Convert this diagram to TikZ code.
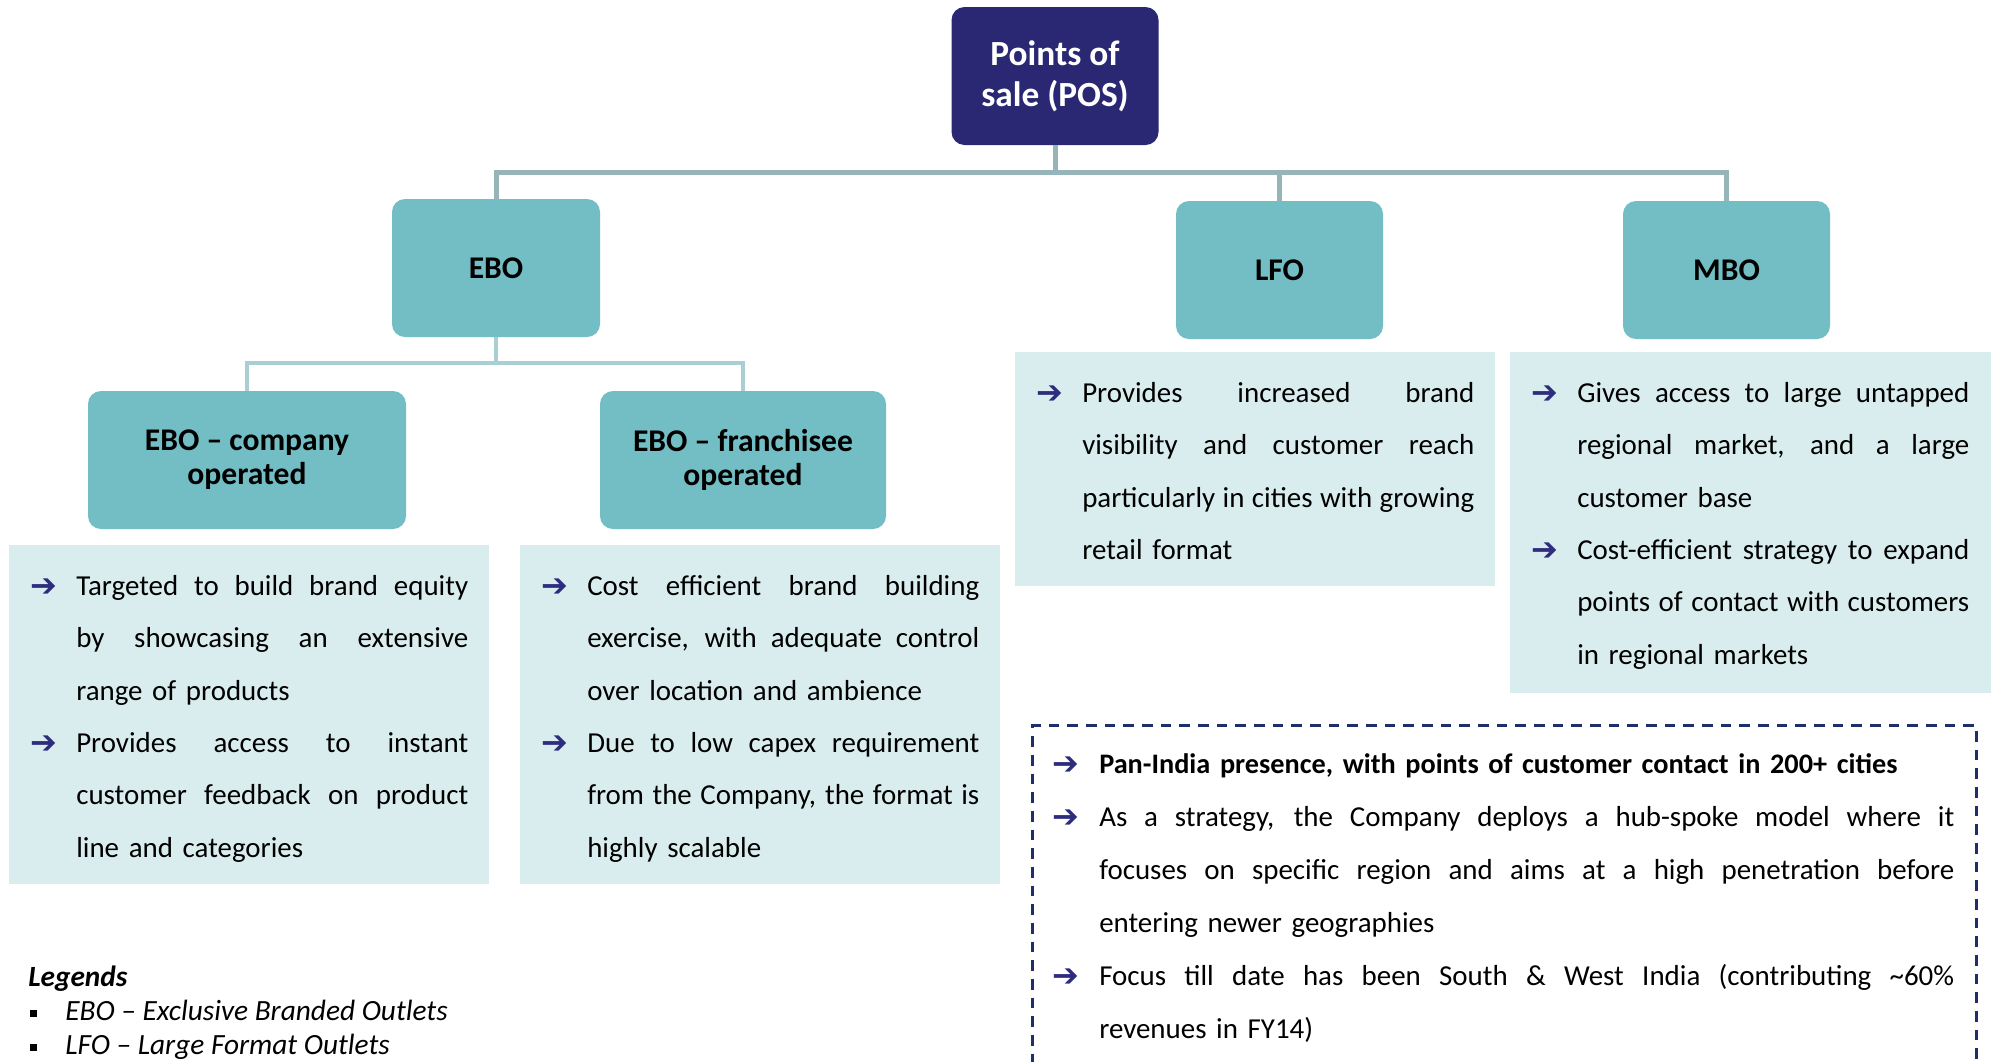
\documentclass[tikz,border=0pt]{standalone}
\usepackage{fontspec}
\setmainfont{Carlito}
\newfontfamily\symfont{DejaVu Sans}
\usetikzlibrary{calc}

\definecolor{posfill}{HTML}{2B2873}
\definecolor{catfill}{HTML}{72BEC4}
\definecolor{infofill}{HTML}{DAEDEE}
\definecolor{linetop}{HTML}{97B4B8}
\definecolor{linelow}{HTML}{A9CFD3}
\definecolor{arrowcol}{HTML}{2E2C7E}
\definecolor{dashcol}{HTML}{1F3068}

% bullet lines: arrow column of width \hangw, justified text of width \linew
\newlength\linew
\newlength\hangw
\setlength\hangw{34.5pt}
\setlength\linew{294pt}
\newcommand\bularrow{\textcolor{arrowcol}{\symfont\bfseries\fontsize{24pt}{24pt}\selectfont\raisebox{-0.6pt}{➔}}}
\newcommand\FirstStrut{\rule{0pt}{18.75pt}}
\newcommand\JustBox[1]{\makebox[\linew][s]{\spaceskip=.226em plus 1fil minus .1em
  \xspaceskip=\spaceskip #1}}
\newcommand\ArrLine[1]{\makebox[\hangw][l]{\bularrow}\JustBox{#1}}
\newcommand\ArrEnd[1]{\makebox[\hangw][l]{\bularrow}#1}
\newcommand\MidLine[1]{\hspace*{\hangw}\JustBox{#1}}
\newcommand\EndLine[1]{\hspace*{\hangw}#1}

\tikzset{
  x=0.75pt, y=-0.75pt,
  posbox/.style={rounded corners=9.75pt, fill=posfill, text=white, inner sep=0pt,
    minimum width=155.25pt, minimum height=103.5pt, align=center,
    font=\fontsize{26.5pt}{30.75pt}\selectfont\bfseries},
  catbox/.style={rounded corners=9.75pt, fill=catfill, text=black, inner sep=0pt,
    minimum height=103.5pt, align=center,
    font=\fontsize{23.7pt}{25.5pt}\selectfont\bfseries},
  infobox/.style={fill=infofill, anchor=north west, inner sep=0pt, draw=none},
  infotext/.style={anchor=north west, inner sep=0pt, text width=#1, align=left,
    font=\fontsize{21.7pt}{39.3pt}\selectfont},
  notebox/.style={draw=dashcol, line width=2.25pt, dash pattern=on 8pt off 6pt,
    anchor=north west, inner sep=0pt},
  conntop/.style={draw=linetop, line width=3.75pt},
  connlow/.style={draw=linelow, line width=3.2pt},
}

\begin{document}
\begin{tikzpicture}
\useasboundingbox (0,0) rectangle (1991,1061);
\clip (0,0) rectangle (1991,1061);
\fill[white] (0,0) rectangle (1991,1061);

% hierarchy boxes
\node[posbox] (pos) at (1055,76) {Points of\\sale (POS)};
\node[catbox, minimum width=156pt] (ebo) at (496,268) {EBO};
\node[catbox, minimum width=155.25pt] (lfo) at (1279.5,270) {LFO};
\node[catbox, minimum width=155.25pt] (mbo) at (1726.5,270) {MBO};
\node[catbox, minimum width=238.5pt] (eboc) at (247,460) {EBO – company\\operated};
\node[catbox, minimum width=214.5pt] (ebof) at (743,460) {EBO – franchisee\\operated};

% connectors
\coordinate (busTop) at (0,172);
\coordinate (busLow) at (0,363);
\draw[conntop] (pos.south) -- (pos.south |- busTop) -| (ebo.north);
\draw[conntop] (pos.south |- busTop) -| (lfo.north);
\draw[conntop] (pos.south |- busTop) -| (mbo.north);
\draw[connlow] (ebo.south) -- (ebo.south |- busLow) -| (eboc.north);
\draw[connlow] (ebo.south |- busLow) -| (ebof.north);

% description panels
\node[infobox, minimum width=360pt, minimum height=254.25pt] (t1) at (9,545) {};
\node[infobox, minimum width=360pt, minimum height=254.25pt] (t2) at (520,545) {};
\node[infobox, minimum width=360pt, minimum height=175.5pt] (t3) at (1015,352) {};
\node[infobox, minimum width=360.75pt, minimum height=255.75pt] (t4) at (1510,352) {};

\node[infotext=328.5pt] (t1txt) at (30,570) {%
\ArrLine{\FirstStrut Targeted to build brand equity}\\
\MidLine{by showcasing an extensive}\\
\EndLine{range of products}\\
\ArrLine{Provides access to instant}\\
\MidLine{customer feedback on product}\\
\EndLine{line and categories}};

\node[infotext=328.5pt] (t2txt) at (541,570) {%
\ArrLine{\FirstStrut Cost efficient brand building}\\
\MidLine{exercise, with adequate control}\\
\EndLine{over location and ambience}\\
\ArrLine{Due to low capex requirement}\\
\MidLine{from the Company, the format is}\\
\EndLine{highly scalable}};

\node[infotext=328.5pt] (t3txt) at (1036,377) {%
\ArrLine{\FirstStrut Provides increased brand}\\
\MidLine{visibility and customer reach}\\
\MidLine{particularly in cities with growing}\\
\EndLine{retail format}};

\node[infotext=328.5pt] (t4txt) at (1531,377) {%
\ArrLine{\FirstStrut Gives access to large untapped}\\
\MidLine{regional market, and a large}\\
\EndLine{customer base}\\
\ArrLine{Cost-efficient strategy to expand}\\
\MidLine{points of contact with customers}\\
\EndLine{in regional markets}};

% highlighted notes
\node[notebox, minimum width=708pt, minimum height=270pt] (notes) at (1031,724) {};
\node[infotext=676.5pt, font=\fontsize{21.7pt}{39.75pt}\selectfont] (notestxt) at (1052,748) {%
\setlength\hangw{35.25pt}\setlength\linew{641.25pt}%
\ArrEnd{\FirstStrut{\fontsize{21.2pt}{39.75pt}\selectfont\bfseries Pan-India presence, with points of customer contact in 200+ cities}}\\
\ArrLine{As a strategy, the Company deploys a hub-spoke model where it}\\
\MidLine{focuses on specific region and aims at a high penetration before}\\
\EndLine{entering newer geographies}\\
\ArrLine{Focus till date has been South \& West India (contributing \textasciitilde 60\%}\\
\EndLine{revenues in FY14)}};

% legend
\node[anchor=north west, inner sep=0pt, align=left,
      font=\fontsize{22pt}{25.5pt}\selectfont] (legend) at (28,961) {%
\FirstStrut\textbf{\textit{Legends}}\\
\hspace*{1.5pt}\makebox[26.25pt][l]{\rule[2.25pt]{5.25pt}{5.25pt}}\textit{EBO – Exclusive Branded Outlets}\\
\hspace*{1.5pt}\makebox[26.25pt][l]{\rule[2.25pt]{5.25pt}{5.25pt}}\textit{LFO – Large Format Outlets}};
\end{tikzpicture}
\end{document}
